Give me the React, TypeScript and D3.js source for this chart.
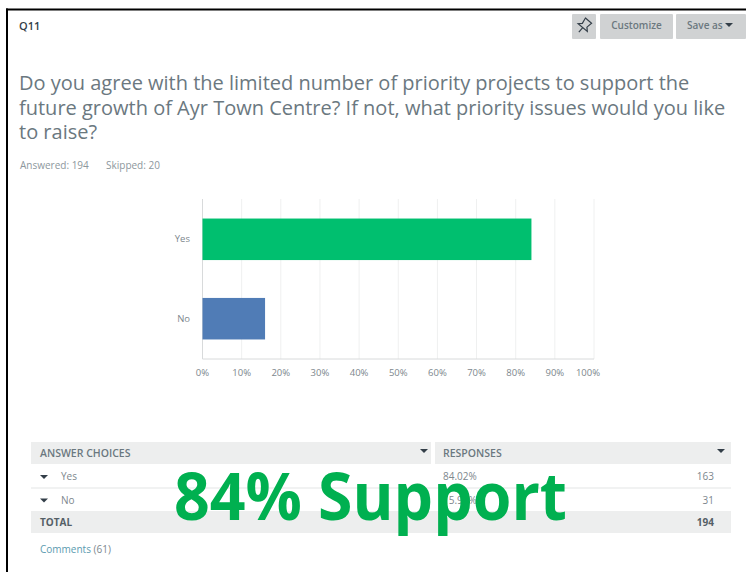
import React from "react";
import * as d3 from "d3";

const categories = ["Yes", "No"];
const shares = [84.02, 15.98];
const barColors = ["#00BF6F", "#507CB6"];
const ticks = [0, 10, 20, 30, 40, 50, 60, 70, 80, 90, 100];
const titleLines = [
  "Do you agree with the limited number of priority projects to support the",
  "future growth of Ayr Town Centre? If not, what priority issues would you like",
  "to raise?",
];
const tableChoices = ["Yes", "No"];
const tablePercents = ["84.02%", "15.98%"];
const tableCounts = ["163", "31"];
const totalCount = "194";

const W = 746;
const H = 572;
const FONT = "'Open Sans', 'Noto Sans', sans-serif";

function Caret({ x, y, fill = "#333e48" }: { x: number; y: number; fill?: string }) {
  const p = d3.path();
  p.moveTo(x - 4, y - 2);
  p.lineTo(x + 4, y - 2);
  p.lineTo(x, y + 2);
  p.closePath();
  return <path d={p.toString()} fill={fill} />;
}

export default function App() {
  const x = d3.scaleLinear().domain([0, 100]).range([202.5, 594]);
  const y = d3.scaleBand().domain(categories).range([199, 359]).paddingInner(0.477).paddingOuter(0.246);
  return (
    <svg width={W} height={H} viewBox={`0 0 ${W} ${H}`} style={{ position: "absolute", left: 0, top: 0, background: "#fff", fontFamily: FONT }}>
      <rect x={6} y={8.5} width={W - 6} height={2} fill="#000" />
      <rect x={6} y={8.5} width={2} height={H - 8.5} fill="#000" />

      <text x={19} y={30} fontSize={11} fontWeight={600} fill="#333e48">Q11</text>

      <rect x={572} y={14} width={24} height={25} rx={1} fill="#d0d2d3" />
      <g transform="translate(584,26) rotate(40)" fill="none" stroke="#333e48" strokeWidth={1.2}>
        <path d="M-4,-7 L4,-7 L3,-1 L6,2 L-6,2 L-3,-1 Z" />
        <path d="M0,2 L0,8" />
      </g>
      <rect x={600} y={14} width={73} height={25} rx={1} fill="#d0d2d3" />
      <text x={636.5} y={29} fontSize={10} fontWeight={600} fill="#6b787f" textAnchor="middle">Customize</text>
      <rect x={676} y={14} width={70} height={25} rx={1} fill="#d0d2d3" />
      <text x={687} y={29} fontSize={10} fontWeight={600} fill="#6b787f">Save as</text>
      <Caret x={729} y={25} />

      {titleLines.map((t, i) => (
        <text key={i} x={19} y={90 + i * 24.5} fontSize={20} fill="#6b787f">{t}</text>
      ))}
      <text x={20} y={169} fontSize={10} fill="#8d979d">Answered: 194</text>
      <text x={106} y={169} fontSize={10} fill="#8d979d">Skipped: 20</text>

      {ticks.map((t) => (
        <g key={t}>
          <line x1={x(t)} x2={x(t)} y1={199} y2={359} stroke={t === 0 ? "#d8dadb" : "#eff0f0"} strokeWidth={1} />
          <text x={t === 100 ? x(t) - 6 : x(t)} y={376} fontSize={9.5} fill="#7d878d" textAnchor="middle">{t}%</text>
        </g>
      ))}
      <line x1={x(0)} x2={x(100)} y1={359} y2={359} stroke="#d8dadb" />
      {categories.map((c, i) => (
        <g key={c}>
          <rect x={x(0)} y={y(c)} width={x(shares[i]) - x(0)} height={y.bandwidth()} fill={barColors[i]} />
          <text x={190} y={y(c)! + y.bandwidth() / 2 + 3} fontSize={9.5} fill="#7d878d" textAnchor="end">{c}</text>
        </g>
      ))}

      <rect x={31} y={442} width={400} height={22} fill="#edeeee" />
      <rect x={435} y={442} width={296} height={22} fill="#edeeee" />
      <text x={40} y={457} fontSize={10.5} fontWeight={600} fill="#6b787f">ANSWER CHOICES</text>
      <text x={443} y={457} fontSize={10.5} fontWeight={600} fill="#6b787f">RESPONSES</text>
      <Caret x={424} y={451} />
      <Caret x={721} y={451} />
      <line x1={31} x2={731} y1={488} y2={488} stroke="#edeeee" strokeWidth={1.5} />
      {tableChoices.map((c, i) => (
        <g key={c}>
          <Caret x={44} y={477 + i * 23.5} />
          <text x={61} y={480 + i * 23.5} fontSize={10} fill="#7d878d">{c}</text>
          <text x={443} y={480 + i * 23.5} fontSize={10} fill="#7d878d">{tablePercents[i]}</text>
          <text x={714} y={480 + i * 23.5} fontSize={10} fill="#7d878d" textAnchor="end">{tableCounts[i]}</text>
        </g>
      ))}
      <rect x={31} y={511} width={700} height={22} fill="#edeeee" />
      <text x={40} y={526} fontSize={10} fontWeight={700} fill="#555f66">TOTAL</text>
      <text x={714} y={526} fontSize={10} fontWeight={700} fill="#555f66" textAnchor="end">{totalCount}</text>
      <text x={40} y={553} fontSize={10} fill="#5b9bb0">Comments <tspan fill="#7d878d">(61)</tspan></text>

      <text x={174} y={520} fontSize={67} fontWeight={700} fill="#00B050" textLength={393} lengthAdjust="spacingAndGlyphs">84% Support</text>
    </svg>
  );
}
